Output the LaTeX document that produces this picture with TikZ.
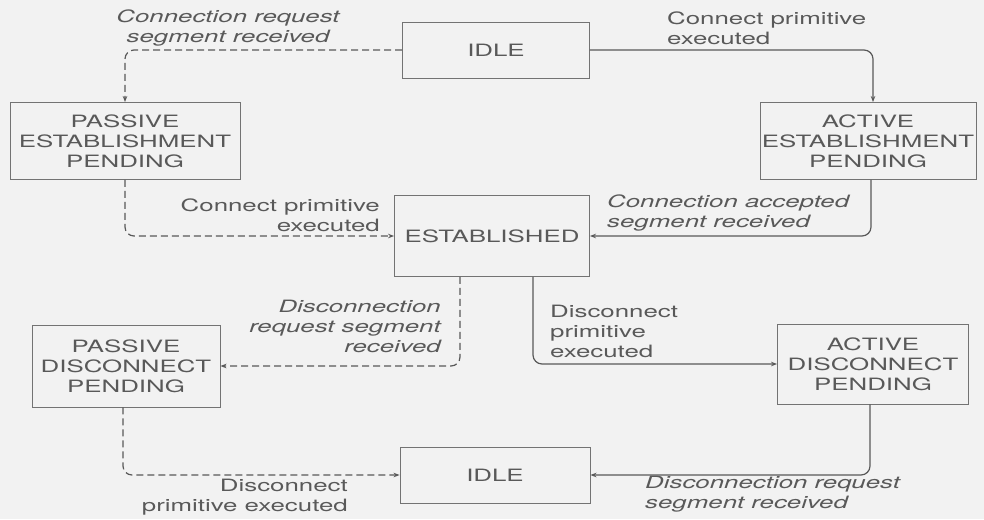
\documentclass[tikz,border=0pt]{standalone}
\usepackage{fontspec}
\setmainfont[FakeStretch=1.52]{TeX Gyre Heros}
\usepackage{tikz}
\usetikzlibrary{arrows.meta}

\begin{document}
\begin{tikzpicture}[x=1pt, y=-1pt, >={Stealth[length=6pt,width=4.5pt]},
  font=\fontsize{17}{20}\selectfont,
  state/.style={draw=black!55, line width=0.9pt, text=black!65, align=center, inner sep=1pt},
  lbl/.style={text=black!65, inner sep=0pt, font=\fontsize{17}{20}\selectfont},
  slanted/.style={lbl, font=\fontsize{17}{20}\selectfont\itshape},
  solidlink/.style={->, draw=black!65, line width=1.2pt, rounded corners=9pt},
  dashlink/.style={solidlink, dash pattern=on 7pt off 4pt}]
  % Hintergrund und Rahmen
  \useasboundingbox (0,0) rectangle (984,519);
  \fill[black!5] (0,0) rectangle (984,519);

  % Zustaende
  \node[state, minimum width=187, minimum height=56] (idleA) at (496,50) {IDLE};
  \node[state, minimum width=230, minimum height=77] (pep) at (125,141) {PASSIVE\\ESTABLISHMENT\\PENDING};
  \node[state, minimum width=216, minimum height=77] (aep) at (868,141) {ACTIVE\\ESTABLISHMENT\\PENDING};
  \node[state, minimum width=195, minimum height=81] (est) at (492,236) {ESTABLISHED};
  \node[state, minimum width=188, minimum height=82] (pdp) at (126,366) {PASSIVE\\DISCONNECT\\PENDING};
  \node[state, minimum width=191, minimum height=80] (adp) at (873,364) {ACTIVE\\DISCONNECT\\PENDING};
  \node[state, minimum width=190, minimum height=56] (idleB) at (495,475) {IDLE};

  % Verbindungsaufbau
  \draw[dashlink] (idleA.west) -| (pep.north);
  \draw[solidlink] (idleA.east) -| ([xshift=5]aep.north);
  \draw[dashlink] (pep.south) |- (est.west);
  \draw[solidlink] ([xshift=3]aep.south) |- (est.east);

  % Verbindungsabbau
  \draw[dashlink] ([xshift=-32]est.south) |- (pdp.east);
  \draw[solidlink] ([xshift=41]est.south) |- (adp.west);
  \draw[dashlink] ([xshift=-3]pdp.south) |- (idleB.west);
  \draw[solidlink] ([xshift=-3]adp.south) |- (idleB.east);

  % Beschriftungen
  \node[slanted, align=center, anchor=north] (reqIn) at (228,10) {Connection request\\segment received};
  \node[lbl, align=left, anchor=north west] (conExA) at (667,12) {Connect primitive\\executed};
  \node[lbl, align=right, anchor=north east] (conExP) at (380,199) {Connect primitive\\executed};
  \node[slanted, align=left, anchor=north west] (accIn) at (607,195) {Connection accepted\\segment received};
  \node[slanted, align=right, anchor=north east] (disIn) at (441,300) {Disconnection\\request segment\\received};
  \node[lbl, align=left, anchor=north west] (disExA) at (550,305) {Disconnect\\primitive\\executed};
  \node[lbl, align=right, anchor=north east] (disExP) at (348,479) {Disconnect\\primitive executed};
  \node[slanted, align=left, anchor=north west] (disReq) at (645,476) {Disconnection request\\segment received};
\end{tikzpicture}
\end{document}
